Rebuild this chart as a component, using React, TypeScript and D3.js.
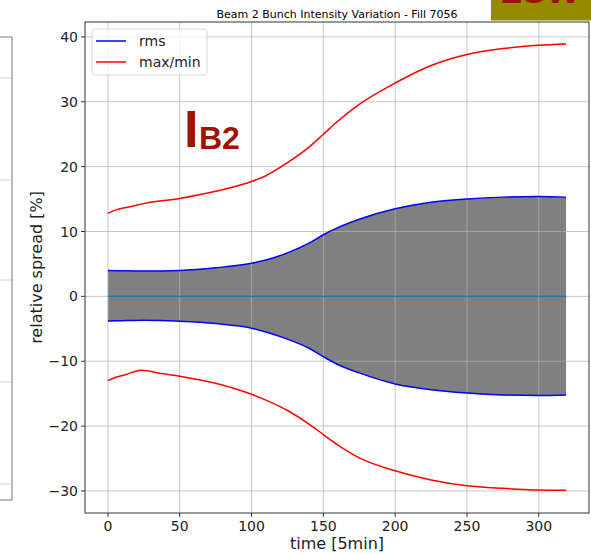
import React from "react";
import * as d3 from "d3";

const rmsT = [0, 10, 25, 50, 75, 100, 110, 125, 140, 150, 160, 175, 200, 225, 250, 275, 300, 319];
const rmsUpper = [4.0, 3.95, 3.9, 4.0, 4.4, 5.1, 5.6, 6.7, 8.2, 9.5, 10.6, 11.9, 13.5, 14.5, 15.0, 15.3, 15.4, 15.3];
const rmsLower = [-3.8, -3.75, -3.7, -3.85, -4.2, -4.9, -5.5, -6.6, -8.0, -9.3, -10.5, -11.8, -13.5, -14.4, -14.9, -15.2, -15.3, -15.2];

const maxT = [0, 5, 15, 25, 50, 75, 100, 110, 125, 140, 150, 160, 175, 200, 225, 250, 275, 300, 319];
const maxV = [12.8, 13.3, 13.8, 14.3, 15.1, 16.2, 17.7, 18.6, 20.6, 23.0, 25.0, 27.0, 29.6, 32.9, 35.6, 37.3, 38.2, 38.7, 38.9];

const minT = [0, 5, 12, 23, 35, 50, 75, 100, 110, 125, 140, 150, 160, 175, 200, 225, 250, 275, 300, 319];
const minV = [-13.0, -12.5, -12.1, -11.4, -11.8, -12.3, -13.4, -15.1, -16.0, -17.6, -19.7, -21.3, -22.9, -24.9, -26.9, -28.3, -29.2, -29.6, -29.85, -29.9];

const xTicks = [0, 50, 100, 150, 200, 250, 300];
const yTicks = [-30, -20, -10, 0, 10, 20, 30, 40];

const title = "Beam 2 Bunch Intensity Variation - Fill 7056";
const xLabel = "time [5min]";
const yLabel = "relative spread [%]";
const legendLabels = ["rms", "max/min"];

export default function App() {
  const W = 591, H = 554;
  const L = 85, R = 589, T = 22, B = 513;
  const x = d3.scaleLinear().domain([-15.95, 334.95]).range([L, R]);
  const y = d3.scaleLinear().domain([-33.4, 42.3]).range([B, T]);

  const line = d3.line<[number, number]>().x(d => x(d[0])).y(d => y(d[1])).curve(d3.curveMonotoneX);
  const area = d3.area<number>()
    .x((_, i) => x(rmsT[i]))
    .y0((_, i) => y(rmsLower[i]))
    .y1((_, i) => y(rmsUpper[i]))
    .curve(d3.curveMonotoneX);

  const up = rmsT.map((t, i) => [t, rmsUpper[i]] as [number, number]);
  const lo = rmsT.map((t, i) => [t, rmsLower[i]] as [number, number]);
  const mx = maxT.map((t, i) => [t, maxV[i]] as [number, number]);
  const mn = minT.map((t, i) => [t, minV[i]] as [number, number]);
  const zero: [number, number][] = [[0, 0], [319, 0]];

  const font = "DejaVu Sans, sans-serif";
  const leftGrid = [78, 180, 280, 382, 484];

  return (
    <svg width={W} height={H} style={{ position: "absolute", left: 0, top: 0 }} fontFamily={font}>
      <rect width={W} height={H} fill="#fff" />
      {/* partial neighbouring panel */}
      {leftGrid.map(g => (
        <line key={g} x1={0} x2={12} y1={g} y2={g} stroke="#d0d0d0" strokeWidth={1} />
      ))}
      <rect x={-5} y={37} width={17} height={463} fill="none" stroke="#999" strokeWidth={1.3} />
      {/* olive box */}
      <rect x={491} y={0} width={100} height={20.5} fill="#948b00" />
      <clipPath id="ol"><rect x={491} y={0} width={100} height={20.5} /></clipPath>
      <g clipPath="url(#ol)">
        <text x={500} y={2.5} fontSize={36} fontWeight="bold" fill="#a01000" fontFamily="Liberation Sans, Arial, sans-serif">LSW</text>
      </g>

      <text x={(L + R) / 2} y={18} fontSize={11} textAnchor="middle" fill="#000">{title}</text>

      {/* fill */}
      <path d={area(rmsT) || ""} fill="#808080" />
      {/* grid */}
      {xTicks.map(t => (
        <line key={"gx" + t} x1={x(t)} x2={x(t)} y1={T} y2={B} stroke="#b0b0b0" strokeOpacity={0.7} strokeWidth={1} />
      ))}
      {yTicks.map(t => (
        <line key={"gy" + t} x1={L} x2={R} y1={y(t)} y2={y(t)} stroke="#b0b0b0" strokeOpacity={0.7} strokeWidth={1} />
      ))}
      {/* lines */}
      <path d={line(zero) || ""} fill="none" stroke="#1f77b4" strokeWidth={1.5} />
      <path d={line(up) || ""} fill="none" stroke="#0000ff" strokeWidth={1.5} />
      <path d={line(lo) || ""} fill="none" stroke="#0000ff" strokeWidth={1.5} />
      <path d={line(mx) || ""} fill="none" stroke="#ff0000" strokeWidth={1.5} />
      <path d={line(mn) || ""} fill="none" stroke="#ff0000" strokeWidth={1.5} />

      {/* spines */}
      <rect x={L} y={T} width={R - L} height={B - T} fill="none" stroke="#333" strokeWidth={1} />
      {xTicks.map(t => (
        <g key={"tx" + t}>
          <line x1={x(t)} x2={x(t)} y1={B} y2={B + 4} stroke="#333" />
          <text x={x(t)} y={531} fontSize={14} textAnchor="middle" fill="#222">{t}</text>
        </g>
      ))}
      {yTicks.map(t => (
        <g key={"ty" + t}>
          <line x1={L - 4} x2={L} y1={y(t)} y2={y(t)} stroke="#333" />
          <text x={78} y={y(t) + 5} fontSize={14} textAnchor="end" fill="#222">{t < 0 ? "\u2212" + Math.abs(t) : t}</text>
        </g>
      ))}
      <text x={(L + R) / 2} y={549} fontSize={16} textAnchor="middle" fill="#222">{xLabel}</text>
      <text transform={`translate(42,${(T + B) / 2}) rotate(-90)`} fontSize={16} textAnchor="middle" fill="#222">{yLabel}</text>

      {/* legend */}
      <rect x={92} y={29} width={115} height={46} rx={3} fill="#fff" fillOpacity={0.8} stroke="#d8d8d8" />
      <line x1={96} x2={126} y1={41} y2={41} stroke="#0000ff" strokeWidth={1.5} />
      <text x={139} y={46} fontSize={14} fill="#222">{legendLabels[0]}</text>
      <line x1={96} x2={126} y1={62} y2={62} stroke="#ff0000" strokeWidth={1.5} />
      <text x={139} y={67} fontSize={14} fill="#222">{legendLabels[1]}</text>

      {/* I_B2 annotation */}
      <g fontFamily="Liberation Sans, Arial, sans-serif" fontWeight="bold" fill="#9e1200">
        <text x={184} y={147} fontSize={52}>I</text>
        <text x={199} y={149} fontSize={32}>B2</text>
      </g>
    </svg>
  );
}
